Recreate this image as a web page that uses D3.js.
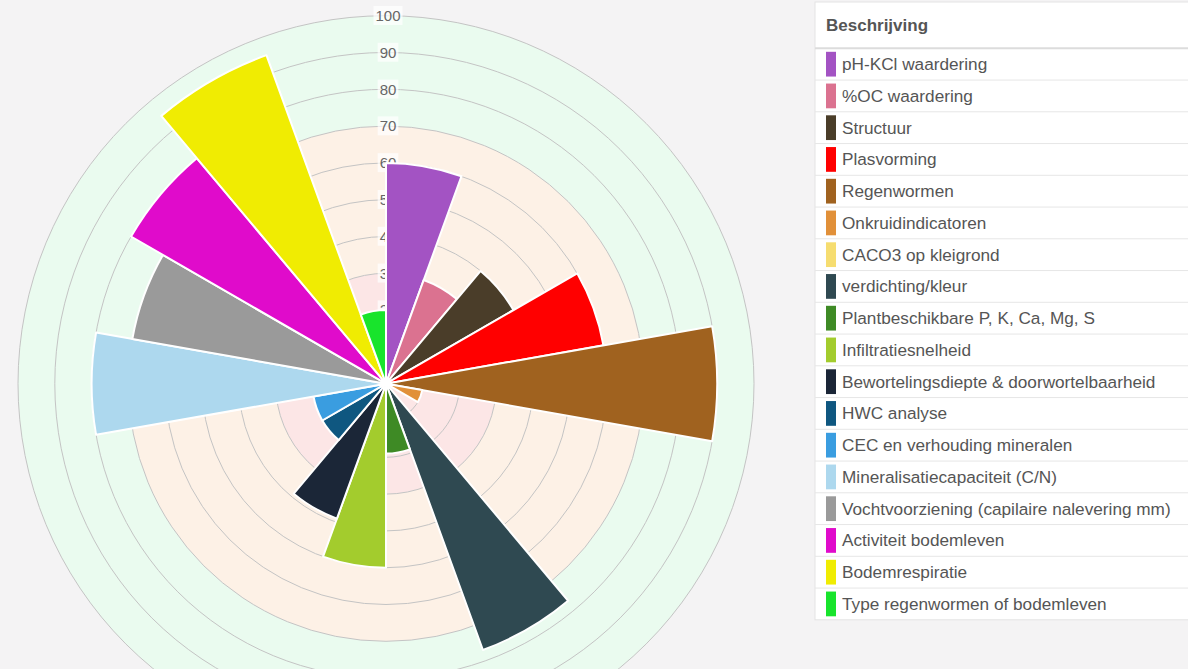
<!DOCTYPE html>
<html>
<head>
<meta charset="utf-8">
<script src="https://cdn.jsdelivr.net/npm/d3@7"></script>
<style>
  html, body { margin: 0; padding: 0; background: #f4f3f4; }
  svg { display: block; font-family: "Liberation Sans", Arial, sans-serif; }
</style>
</head>
<body>
<div id="chart"></div>
<script>
// categories, clockwise from the top
var categories = [
    "pH-KCl waardering",
    "%OC waardering",
    "Structuur",
    "Plasvorming",
    "Regenwormen",
    "Onkruidindicatoren",
    "CACO3 op kleigrond",
    "verdichting/kleur",
    "Plantbeschikbare P, K, Ca, Mg, S",
    "Infiltratiesnelheid",
    "Bewortelingsdiepte & doorwortelbaarheid",
    "HWC analyse",
    "CEC en verhouding mineralen",
    "Mineralisatiecapaciteit (C/N)",
    "Vochtvoorziening (capilaire nalevering mm)",
    "Activiteit bodemleven",
    "Bodemrespiratie",
    "Type regenwormen of bodemleven"
];

var values = [60, 30, 40, 60, 90, 10, 0, 77, 19, 50, 39, 20, 20, 80, 70, 80, 95, 20];

var tickValues = [10, 20, 30, 40, 50, 60, 70, 80, 90, 100];

// zones behind the rings
var zoneStops = [0, 30, 70, 100];

var palette = ["#a353c3", "#db7290", "#4a3d29", "#ff0000", "#a0621f", "#e19039",
    "#f6dd70", "#2f4951", "#3e8a25", "#a3cc2d", "#1b2637", "#0f5780",
    "#3a9de0", "#add8ee", "#9a9a9a", "#e00bcb", "#f0ec02", "#18e42c"];
var zoneColors = ["#fce6e6", "#fdf1e6", "#eafbef"];

var width = 1188, height = 669;
var cx = 386, cy = 383.7, radius = 368;

var svg = d3.select("#chart").append("svg")
    .attr("width", width)
    .attr("height", height);

var r = d3.scaleLinear()
    .domain([0, 100])
    .range([0, radius]);

var angle = d3.scaleBand()
    .domain(categories)
    .range([0, 2 * Math.PI]);

var color = d3.scaleOrdinal()
    .domain(categories)
    .range(palette);

var g = svg.append("g")
    .attr("transform", "translate(" + cx + "," + cy + ")");

// background zones
var zones = d3.range(zoneStops.length - 1).map(function(i) {
    return {inner: zoneStops[i], outer: zoneStops[i + 1], color: zoneColors[i]};
});

g.selectAll(".zone")
    .data(zones)
    .enter().append("path")
    .attr("class", "zone")
    .attr("d", function(d) {
        return d3.arc()({innerRadius: r(d.inner), outerRadius: r(d.outer), startAngle: 0, endAngle: 2 * Math.PI});
    })
    .style("fill", function(d) { return d.color; });

// grid rings
g.selectAll(".ring")
    .data(tickValues)
    .enter().append("circle")
    .attr("class", "ring")
    .attr("r", function(d) { return r(d); })
    .style("fill", "none")
    .style("stroke", "#c4c4c4")
    .style("stroke-width", 1);

// tick labels with backdrop
var tick = g.selectAll(".tick")
    .data(tickValues)
    .enter().append("g")
    .attr("class", "tick")
    .attr("transform", function(d) { return "translate(2," + (-r(d)) + ")"; });

tick.append("text")
    .attr("text-anchor", "middle")
    .attr("dy", "0.35em")
    .style("font-size", "15px")
    .style("fill", "#666")
    .text(function(d) { return d; })
    .each(function() {
        var b = this.getBBox();
        d3.select(this.parentNode).insert("rect", "text")
            .attr("x", b.x - 2)
            .attr("y", b.y - 1)
            .attr("width", b.width + 4)
            .attr("height", b.height + 2)
            .style("fill", "rgba(255,255,255,0.7)");
    });

// segments
var arc = d3.arc()
    .innerRadius(0)
    .outerRadius(function(d) { return r(d.value); })
    .startAngle(function(d) { return angle(d.name); })
    .endAngle(function(d) { return angle(d.name) + angle.bandwidth(); });

var data = categories.map(function(c, i) { return {name: c, value: values[i]}; });

g.selectAll(".segment")
    .data(data)
    .enter().append("path")
    .attr("class", "segment")
    .attr("d", arc)
    .style("fill", function(d) { return color(d.name); })
    .style("stroke", "#fff")
    .style("stroke-width", 2)
    .style("stroke-linejoin", "round");

// legend panel
var lg = svg.append("g")
    .attr("transform", "translate(815,0)");

var rowTop = 48.3, rowH = 31.75;

lg.append("rect")
    .attr("x", 0)
    .attr("y", 2)
    .attr("width", width - 815 + 5)
    .attr("height", rowTop + rowH * categories.length - 2)
    .style("fill", "#fff")
    .style("stroke", "#e3e3e3");

lg.append("text")
    .attr("x", 11)
    .attr("y", 25)
    .attr("dy", "0.35em")
    .style("font-size", "17px")
    .style("font-weight", "bold")
    .style("fill", "#555")
    .text("Beschrijving");

lg.append("line")
    .attr("x1", 0)
    .attr("x2", width - 815)
    .attr("y1", rowTop)
    .attr("y2", rowTop)
    .style("stroke", "#dcdcdc")
    .style("stroke-width", 2);

var row = lg.selectAll(".legend")
    .data(categories)
    .enter().append("g")
    .attr("class", "legend")
    .attr("transform", function(d, i) { return "translate(0," + (rowTop + i * rowH) + ")"; });

row.filter(function(d, i) { return i > 0; })
    .append("line")
    .attr("x1", 0)
    .attr("x2", width - 815)
    .attr("y1", 0)
    .attr("y2", 0)
    .style("stroke", "#e6e6e6");

row.append("rect")
    .attr("x", 11)
    .attr("y", 3.5)
    .attr("width", 10)
    .attr("height", rowH - 7)
    .style("fill", function(d) { return color(d); });

row.append("text")
    .attr("x", 27)
    .attr("y", rowH / 2)
    .attr("dy", "0.35em")
    .style("font-size", "17.2px")
    .style("fill", "#555")
    .text(function(d) { return d; });
</script>
</body>
</html>
